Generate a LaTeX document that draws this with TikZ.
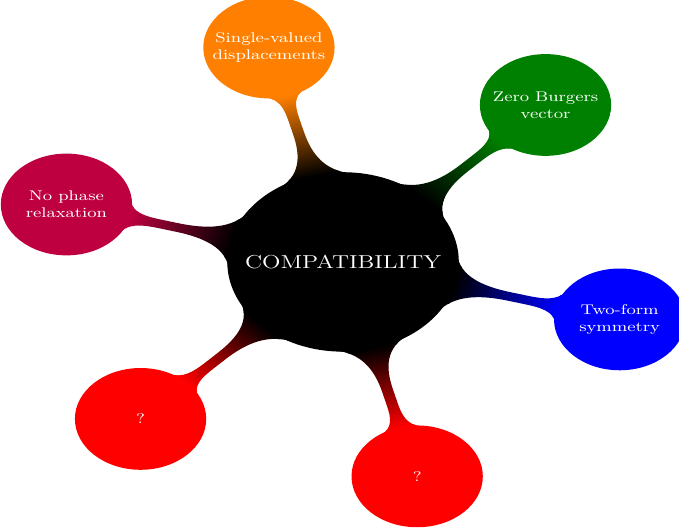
\documentclass[tikz,border=0pt]{standalone}
\usetikzlibrary{mindmap}
\begin{document}
\begin{tikzpicture}
\useasboundingbox (-7.727,-6.06) rectangle (7.567,5.90);
\begin{scope}[transform canvas={xscale=1.29}, mindmap,
  concept color=black, text=white,
  rootbox/.style={concept, minimum size=4cm, text width=3.5cm, font=\large},
  kidbox/.style={concept, minimum size=2.25cm, text width=2cm, font=\small},
  level 1/.append style={level distance=5cm, sibling angle=60}]
\node[rootbox] (root) {COMPATIBILITY}
  [clockwise from=105]
  child[concept color=orange] {node[kidbox] (a) {Single-valued displacements}}
  child[concept color=green!50!black] {node[kidbox] (b) {Zero Burgers vector}}
  child[concept color=blue] {node[kidbox] (c) {Two-form symmetry}}
  child[concept color=red] {node[kidbox] (d) {?}}
  child[concept color=red] {node[kidbox] (e) {?}}
  child[concept color=purple] {node[kidbox] (f) {No phase relaxation}};
\end{scope}
\end{tikzpicture}
\end{document}
